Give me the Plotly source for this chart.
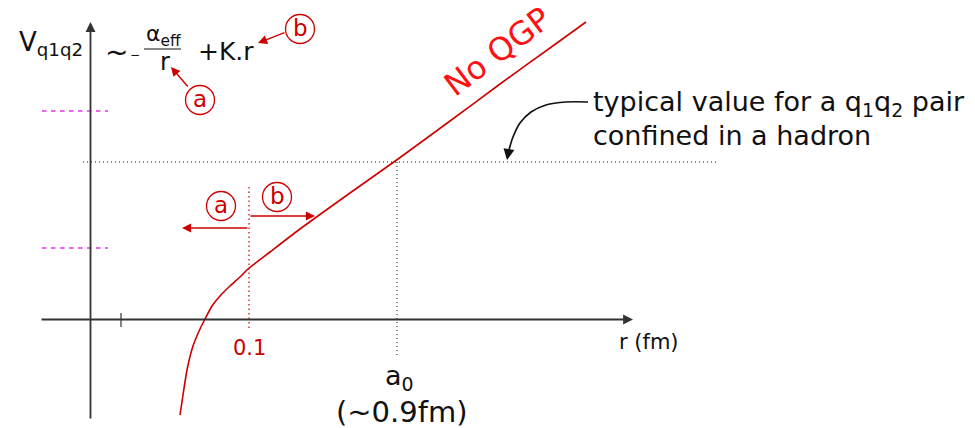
import plotly.graph_objects as go

# Schematic frame: r grows to the right, V grows upward; origin where the axes cross.
W, H = 975, 428
X0, Y0 = 90, 320  # screen position of the axis crossing

def sx(px):
    return px - X0

def sy(py):
    return Y0 - py

# Potential curve V(r): Coulomb-like at small r, linear (string tension) beyond
curve_px = [180, 183, 187, 193, 200, 205, 212, 220, 230, 240, 248, 270, 300, 350, 398, 450, 500, 550, 586]
curve_py = [415, 395, 370, 346, 329, 319, 306, 296, 286, 277, 269, 252, 229, 193, 159, 121, 84, 48, 22]

# Reference levels
hadron_level_py = 162
magenta_levels_py = [111, 248]
r_cut_px = 249      # r = 0.1 fm
a0_px = 397         # a0 ~ 0.9 fm
tick_px = 121

RED = "#cc0000"
BRIGHT_RED = "#ff1111"
INK = "#111111"
AXIS = "#333333"
MAGENTA = "#ee66ee"
FONT = "DejaVu Sans"

fig = go.Figure()

# potential curve
fig.add_trace(go.Scatter(
    x=[sx(p) for p in curve_px], y=[sy(p) for p in curve_py],
    mode="lines", line=dict(color=RED, width=1.6, shape="spline", smoothing=0.6),
    hoverinfo="skip", showlegend=False))

# hadron level (dotted)
fig.add_trace(go.Scatter(
    x=[sx(83), sx(718)], y=[sy(hadron_level_py)] * 2, mode="lines",
    line=dict(color=INK, width=1, dash="1px,3px"), hoverinfo="skip", showlegend=False))
# a0 drop line
fig.add_trace(go.Scatter(
    x=[sx(a0_px)] * 2, y=[sy(hadron_level_py), sy(358)], mode="lines",
    line=dict(color=INK, width=1, dash="1px,3px"), hoverinfo="skip", showlegend=False))
# r = 0.1 fm marker
fig.add_trace(go.Scatter(
    x=[sx(r_cut_px)] * 2, y=[sy(187), sy(330)], mode="lines",
    line=dict(color=RED, width=1.2, dash="1.5px,3px"), hoverinfo="skip", showlegend=False))
# magenta dashed levels
for lv in magenta_levels_py:
    fig.add_trace(go.Scatter(
        x=[sx(42), sx(108)], y=[sy(lv)] * 2, mode="lines",
        line=dict(color=MAGENTA, width=1.8, dash="4.5px,4.5px"), hoverinfo="skip", showlegend=False))
# small tick on the r axis
fig.add_trace(go.Scatter(
    x=[sx(tick_px)] * 2, y=[sy(313), sy(327)], mode="lines",
    line=dict(color=AXIS, width=1.2), hoverinfo="skip", showlegend=False))

# curved pointer from the note down to the hadron level
note_px = [588, 566, 546, 531, 520, 513, 509]
note_py = [102, 102, 105, 112, 123, 137, 150]
fig.add_trace(go.Scatter(
    x=[sx(p) for p in note_px], y=[sy(p) for p in note_py], mode="lines",
    line=dict(color=INK, width=1.7, shape="spline"), hoverinfo="skip", showlegend=False))

# circled labels
circles = [("a", 200, 100), ("b", 300, 29), ("a", 221, 206), ("b", 277, 197)]
fig.add_trace(go.Scatter(
    x=[sx(c[1]) for c in circles], y=[sy(c[2]) for c in circles],
    mode="markers", marker=dict(symbol="circle-open", size=29, color=RED, line=dict(width=1.3)),
    hoverinfo="skip", showlegend=False))

ann = []

def arrow(x1, y1, x0, y0, color, width=1.6, head=2, size=1.0):
    ann.append(dict(x=sx(x1), y=sy(y1), ax=sx(x0), ay=sy(y0), xref="x", yref="y",
                    axref="x", ayref="y", showarrow=True, arrowhead=head,
                    arrowsize=size, arrowwidth=width, arrowcolor=color, text=""))

def text(x, y, s, size, color=INK, xanchor="center", yanchor="middle", angle=0):
    ann.append(dict(x=sx(x), y=sy(y), xref="x", yref="y", text=s, showarrow=False,
                    font=dict(family=FONT, size=size, color=color),
                    xanchor=xanchor, yanchor=yanchor, textangle=angle))

# axes with arrowheads
arrow(90.5, 22, 90.5, 420, AXIS, width=1.8, head=2, size=1.1)
arrow(633, 319.5, 40, 319.5, AXIS, width=1.8, head=2, size=1.1)

# red range arrows around r = 0.1 fm
arrow(182, 228, 249, 228, RED, width=1.4, head=2, size=1.3)
arrow(315, 216, 249, 216, RED, width=1.4, head=2, size=1.3)
# pointers from circled labels to the formula terms
arrow(171, 67, 189, 88, RED, width=1.4, head=2, size=1.3)
arrow(258, 43, 286, 32, RED, width=1.4, head=2, size=1.3)
# head of the curved pointer
arrow(507, 160, 509, 149, INK, width=1.7, head=2, size=1.3)

for s, cx, cy in circles:
    text(cx, cy - 1, s, 23, RED)

# axis titles
text(17, 43, "V<sub>q1q2</sub>", 26, xanchor="left")
text(617, 342, "r (fm)", 21, xanchor="left")
text(249, 348, "0.1", 21, RED)
text(399, 377, "a<sub>0</sub>", 27)
text(402, 412, "(~0.9fm)", 29)

# potential formula
text(116, 52, "~", 28)
text(135, 55, "−", 12)
text(163, 35, "α<sub>eff</sub>", 22)
text(165, 62, "r", 24)
text(226, 51, "+K.r", 25)

text(497, 52, "No QGP", 32, BRIGHT_RED, angle=-37)
text(591, 103, "typical value for a q<sub>1</sub>q<sub>2</sub> pair", 27, xanchor="left")
text(591, 135, "confined in a hadron", 27, xanchor="left")

shapes = [dict(type="line", xref="x", yref="y", x0=sx(144), x1=sx(181),
               y0=sy(49), y1=sy(49), line=dict(color=INK, width=1.2))]

fig.update_layout(
    width=W, height=H, margin=dict(l=0, r=0, t=0, b=0),
    paper_bgcolor="white", plot_bgcolor="white",
    xaxis=dict(range=[sx(0), sx(W)], visible=False, fixedrange=True),
    yaxis=dict(range=[sy(H), sy(0)], visible=False, fixedrange=True),
    annotations=ann, shapes=shapes, showlegend=False)

fig.write_html("out.html")
